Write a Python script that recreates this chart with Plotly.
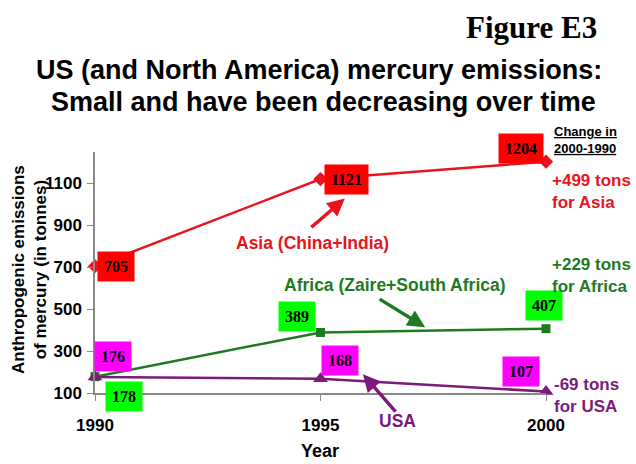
import plotly.graph_objects as go

years = [1990, 1995, 2000]
asia = [705, 1121, 1204]
africa = [178, 389, 407]
usa = [176, 168, 107]
y_ticks = [100, 300, 500, 700, 900, 1100]

ASIA_C = "#E8141C"
AFR_C = "#1E7A1E"
USA_C = "#7A1A7A"

fig = go.Figure()
fig.add_trace(go.Scatter(x=years, y=asia, mode="lines+markers",
                         line=dict(color=ASIA_C, width=2.5),
                         marker=dict(symbol="diamond", size=11, color=ASIA_C),
                         cliponaxis=False, showlegend=False))
fig.add_trace(go.Scatter(x=years, y=africa, mode="lines+markers",
                         line=dict(color=AFR_C, width=2.5),
                         marker=dict(symbol="square", size=9, color=AFR_C),
                         cliponaxis=False, showlegend=False))
fig.add_trace(go.Scatter(x=years, y=usa, mode="lines+markers",
                         line=dict(color=USA_C, width=2.5),
                         marker=dict(symbol="triangle-up", size=13, color=USA_C),
                         cliponaxis=False, showlegend=False))


def px(xp):
    return (xp - 95) / 451.0


def py(yp):
    return (393 - yp) / 241.0


ann = []
# value labels: (x, y, text, bg, xshift, yshift)
labels = [
    (years[0], asia[0], asia[0], "#FF0000", 21, 0),
    (years[1], asia[1], asia[1], "#FF0000", 26, 0),
    (years[2], asia[2], asia[2], "#FF0000", -25, 13),
    (years[0], africa[0], africa[0], "#00FF00", 29, -20),
    (years[1], africa[1], africa[1], "#00FF00", -24, 16),
    (years[2], africa[2], africa[2], "#00FF00", -2, 23),
    (years[0], usa[0], usa[0], "#FF00FF", 18, 21),
    (years[1], usa[1], usa[1], "#FF00FF", 19, 18),
    (years[2], usa[2], usa[2], "#FF00FF", -25, 20),
]
for x, y, t, bg, xs, ys in labels:
    ann.append(dict(x=x, y=y, xref="x", yref="y", text="<b>%d</b>" % t, showarrow=False,
                    xshift=xs, yshift=ys, bgcolor=bg, borderpad=6,
                    font=dict(family="Liberation Serif", size=16, color="black")))

# series name texts with arrows
ann.append(dict(x=1995.54, y=1028, xref="x", yref="y", text="", showarrow=True,
                ax=-35, ay=30, arrowcolor=ASIA_C, arrowwidth=3.5, arrowhead=2, arrowsize=1))
ann.append(dict(x=px(312), y=py(243), xref="paper", yref="paper", text="<b>Asia (China+India)</b>",
                showarrow=False, font=dict(family="Liberation Sans", size=17.5, color=ASIA_C)))
ann.append(dict(x=1997.32, y=414, xref="x", yref="y", text="", showarrow=True,
                ax=-47, ay=-29, arrowcolor=AFR_C, arrowwidth=3.5, arrowhead=2, arrowsize=1))
ann.append(dict(x=px(395), y=py(285), xref="paper", yref="paper", text="<b>Africa (Zaire+South Africa)</b>",
                showarrow=False, font=dict(family="Liberation Sans", size=17.5, color=AFR_C)))
ann.append(dict(x=1995.94, y=190, xref="x", yref="y", text="", showarrow=True,
                ax=34, ay=39, arrowcolor=USA_C, arrowwidth=3.5, arrowhead=2, arrowsize=1))
ann.append(dict(x=px(418), y=py(433), xref="paper", yref="paper", text="<b>USA</b>",
                showarrow=False, font=dict(family="Liberation Sans", size=17.5, color=USA_C)))

# right-side change texts
ann.append(dict(x=px(552), y=py(140), xref="paper", yref="paper", xanchor="left", yanchor="middle",
                text="<b><u>Change in</u></b><br><b><u>2000-1990</u></b>", showarrow=False, align="left",
                font=dict(family="Liberation Sans", size=13, color="black")))
ann.append(dict(x=px(550), y=py(191), xref="paper", yref="paper", xanchor="left", yanchor="middle",
                text="<b>+499 tons<br>for Asia</b>", showarrow=False, align="left",
                font=dict(family="Liberation Sans", size=17, color=ASIA_C)))
ann.append(dict(x=px(550), y=py(275), xref="paper", yref="paper", xanchor="left", yanchor="middle",
                text="<b>+229 tons<br>for Africa</b>", showarrow=False, align="left",
                font=dict(family="Liberation Sans", size=17, color=AFR_C)))
ann.append(dict(x=px(552), y=py(395), xref="paper", yref="paper", xanchor="left", yanchor="middle",
                text="<b>-69 tons<br>for USA</b>", showarrow=False, align="left",
                font=dict(family="Liberation Sans", size=17, color=USA_C)))

# headings
ann.append(dict(x=px(599), y=py(27), xref="paper", yref="paper", xanchor="right", yanchor="middle",
                text="<b>Figure E3</b>", showarrow=False,
                font=dict(family="Liberation Serif", size=31, color="black")))
ann.append(dict(x=px(319), y=py(70), xref="paper", yref="paper", xanchor="center", yanchor="middle",
                text="<b>US (and North America) mercury emissions:</b>",
                showarrow=False, font=dict(family="Liberation Sans", size=27, color="black")))
ann.append(dict(x=px(323), y=py(102), xref="paper", yref="paper", xanchor="center", yanchor="middle",
                text="<b>Small and have been decreasing over time</b>",
                showarrow=False, font=dict(family="Liberation Sans", size=27, color="black")))

# axis titles
ann.append(dict(x=px(320), y=py(451), xref="paper", yref="paper", xanchor="center", yanchor="middle",
                text="<b>Year</b>", showarrow=False,
                font=dict(family="Liberation Sans", size=18, color="black")))
ann.append(dict(x=px(29), y=py(270), xref="paper", yref="paper", xanchor="center", yanchor="middle",
                text="<b>Anthropogenic emissions<br>of mercury (in tonnes)</b>", showarrow=False,
                textangle=-90, font=dict(family="Liberation Sans", size=17, color="black")))

fig.update_layout(
    width=636, height=464,
    margin=dict(l=95, r=90, t=152, b=71),
    paper_bgcolor="white", plot_bgcolor="white",
    annotations=ann,
    font=dict(family="Liberation Sans"),
)
fig.update_xaxes(range=[1990, 2000], tickvals=years, ticktext=["<b>%d</b>" % y for y in years],
                 automargin=False,
                 showgrid=False, zeroline=False, showline=True, linecolor="#888888", linewidth=1.5,
                 ticks="outside", ticklen=6, tickcolor="#888888", ticklabelstandoff=10,
                 tickfont=dict(family="Liberation Sans", size=17, color="black"))
fig.update_yaxes(range=[100, 1250], tickvals=y_ticks, ticktext=["<b>%d</b>" % v for v in y_ticks],
                 automargin=False,
                 showgrid=False, zeroline=False, showline=True, linecolor="#888888", linewidth=1.5,
                 ticks="outside", ticklen=6, tickcolor="#888888", ticklabelstandoff=2,
                 tickfont=dict(family="Liberation Sans", size=17, color="black"))

fig.write_html("out.html")
